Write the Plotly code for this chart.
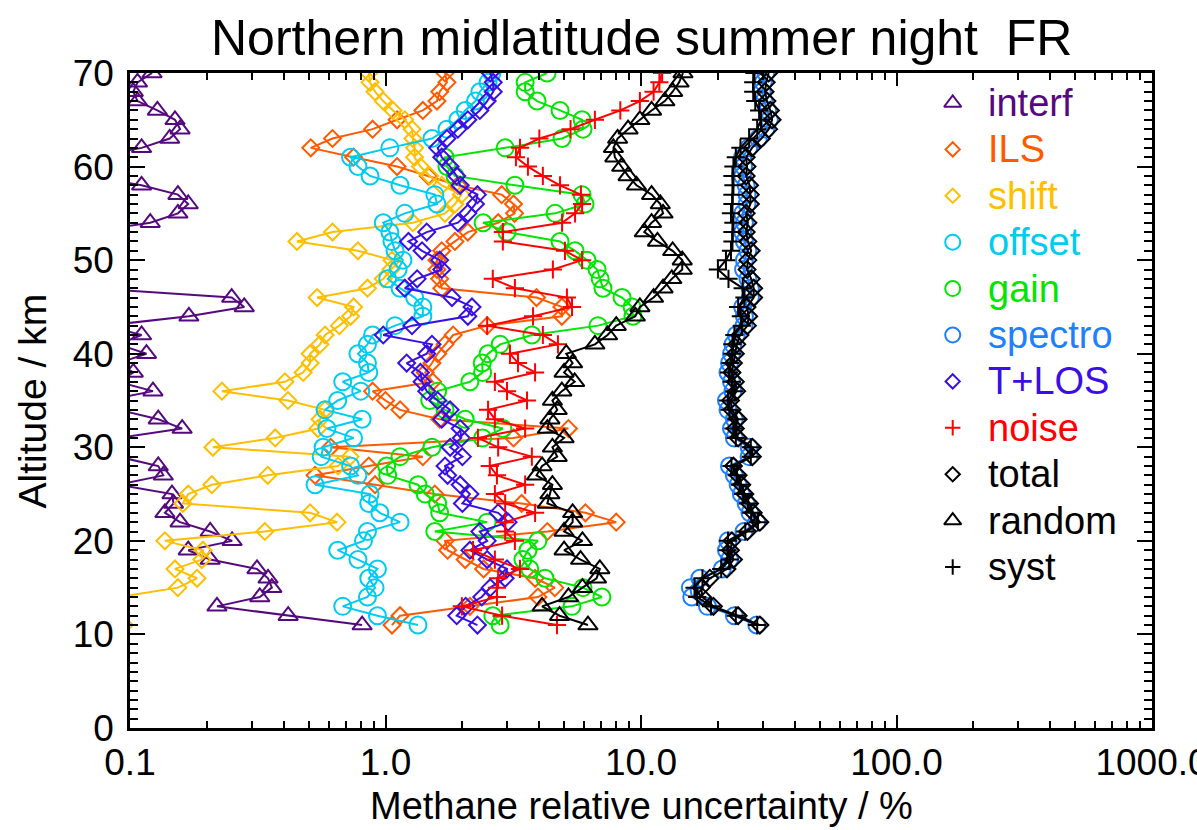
import plotly.graph_objects as go

# Altitude grid (km)
altitude = list(range(11, 71))

# Relative uncertainty contributions (%), listed from 11 km to 70 km
interf = [0.81, 0.416, 0.219, 0.322, 0.359, 0.347, 0.314, 0.206, 0.169, 0.251,
          0.206, 0.157, 0.137, 0.148, 0.146, 0.09, 0.135, 0.129, 0.09, 0.08,
          0.09, 0.160, 0.129, 0.09, 0.08, 0.123, 0.09, 0.103, 0.09, 0.116,
          0.09, 0.111, 0.08, 0.17, 0.28, 0.25, 0.07, 0.06, 0.05, 0.04,
          0.05, 0.04, 0.07, 0.120, 0.154, 0.169, 0.154, 0.111, 0.07, 0.05,
          0.07, 0.111, 0.143, 0.157, 0.150, 0.128, 0.107, 0.103, 0.107, 0.122]

ils = [1.06, 1.14, 2.14, 3.95, 4.6, 3.85, 2.42, 2.05, 1.75, 1.71,
       4.3, 8.0, 6.06, 3.41, 1.56, 0.91, 0.53, 0.86, 1.40, 0.61,
       3.17, 5.2, 1.63, 1.14, 1.0, 0.89, 1.53, 1.43, 1.52, 1.60,
       1.71, 1.84, 2.50, 4.9, 4.9, 3.9, 1.66, 1.63, 1.59, 1.59,
       1.66, 1.87, 2.10, 2.76, 3.2, 3.17, 2.85, 1.92, 1.47, 1.11,
       0.75, 0.51, 0.62, 0.89, 1.11, 1.40, 1.59, 1.63, 1.74, 1.71]

shift = [0.095, 0.05, 0.06, 0.09, 0.154, 0.183, 0.150, 0.191, 0.193, 0.137,
         0.337, 0.646, 0.507, 0.161, 0.169, 0.209, 0.346, 0.652, 0.727, 0.211,
         0.370, 0.544, 0.554, 0.580, 0.415, 0.229, 0.404, 0.476, 0.507, 0.507,
         0.554, 0.58, 0.66, 0.73, 0.75, 0.54, 0.85, 0.98, 1.05, 1.06,
         0.78, 0.45, 0.62, 1.28, 1.71, 1.87, 1.98, 1.66, 1.49, 1.37,
         1.30, 1.30, 1.28, 1.27, 1.19, 1.07, 0.98, 0.91, 0.87, 0.86]

offset = [1.34, 0.93, 0.68, 0.85, 0.91, 0.86, 0.93, 0.78, 0.65, 0.82,
          0.85, 1.14, 0.95, 0.86, 0.87, 0.53, 0.78, 0.73, 0.56, 0.57,
          0.75, 0.59, 0.81, 0.58, 0.65, 0.80, 0.68, 0.86, 0.85, 0.78,
          0.85, 0.89, 1.09, 1.40, 1.40, 1.30, 1.14, 1.02, 1.12, 1.17,
          1.09, 1.06, 1.04, 0.98, 1.19, 1.59, 1.56, 1.14, 0.87, 0.78,
          0.73, 1.04, 1.52, 1.74, 1.92, 2.05, 2.25, 2.34, 2.52, 2.61]

gain = [2.81, 2.63, 5.37, 7.03, 5.93, 4.21, 3.67, 3.45, 3.61, 3.95,
        1.56, 2.50, 1.63, 1.60, 1.43, 1.34, 1.02, 1.01, 1.14, 1.52,
        2.40, 2.88, 2.05, 1.71, 1.49, 1.60, 2.14, 2.40, 2.39, 2.52,
        2.81, 3.74, 6.79, 9.3, 9.23, 8.43, 7.10, 6.92, 6.73, 6.15,
        5.52, 4.82, 2.99, 2.41, 4.61, 6.04, 5.88, 3.21, 1.87, 1.74,
        1.71, 2.94, 4.91, 5.93, 5.88, 4.82, 3.92, 3.52, 3.52, 4.29]

spectro = [28.4, 23.2, 18.2, 15.8, 15.6, 17.0, 20.8, 22.2, 21.6, 21.9,
           25.3, 28.4, 26.7, 25.8, 24.7, 24.0, 23.2, 22.2, 26.5, 26.5,
           23.2, 22.6, 23.2, 21.9, 21.6, 22.9, 22.6, 21.9, 22.2, 22.6,
           22.9, 23.6, 25.3, 25.4, 25.0, 26.8, 26.8, 26.2, 25.2, 25.4,
           26.2, 25.4, 25.0, 25.4, 25.0, 26.0, 26.0, 25.8, 25.0, 25.2,
           25.0, 26.4, 28.8, 30.8, 31.8, 31.3, 30.3, 29.8, 30.1, 30.8]

t_los = [2.29, 1.90, 2.06, 2.38, 2.57, 2.94, 2.99, 2.50, 2.14, 2.50,
         2.34, 3.02, 2.76, 2.00, 2.14, 1.96, 1.75, 1.71, 2.00, 1.79,
         1.98, 1.96, 1.66, 1.79, 1.60, 1.45, 1.39, 1.37, 1.21, 1.45,
         1.52, 0.98, 1.27, 2.10, 2.18, 1.82, 1.19, 1.33, 1.66, 1.63,
         1.39, 1.23, 1.45, 1.92, 2.10, 2.25, 2.29, 1.96, 1.90, 1.79,
         1.66, 1.60, 1.74, 1.92, 2.10, 2.34, 2.50, 2.64, 2.64, 2.57]

noise = [4.69, 2.86, 1.99, 2.73, 2.73, 2.76, 3.36, 2.68, 2.20, 3.21,
         2.94, 2.94, 3.85, 2.94, 2.68, 3.52, 2.73, 2.56, 3.74, 2.76,
         2.30, 3.52, 2.68, 2.52, 3.58, 2.99, 2.68, 3.85, 3.30, 3.07,
         4.73, 4.13, 2.50, 3.78, 5.37, 5.13, 3.21, 2.63, 4.52, 5.88,
         5.04, 2.88, 2.88, 4.91, 5.52, 5.88, 5.82, 4.82, 4.13, 3.61,
         3.24, 3.36, 4.0, 5.3, 6.6, 8.3, 9.9, 11.2, 11.8, 12.1]

total = [29.2, 24.0, 19.2, 17.4, 17.2, 18.6, 21.7, 23.0, 22.4, 22.7,
         26.1, 29.2, 27.5, 26.6, 25.5, 24.8, 24.0, 23.0, 27.3, 27.3,
         24.0, 23.4, 24.0, 22.7, 22.4, 23.7, 23.4, 22.7, 23.0, 23.4,
         23.7, 24.4, 26.1, 26.4, 26.0, 27.6, 27.6, 27.0, 26.0, 26.2,
         27.0, 26.2, 25.8, 26.2, 25.8, 26.8, 26.8, 26.6, 25.8, 26.0,
         25.8, 27.2, 29.6, 31.6, 32.6, 32.1, 31.1, 30.6, 30.9, 31.6]

random_err = [6.2, 4.8, 4.1, 5.2, 5.9, 6.7, 6.9, 5.8, 5.0, 5.9,
              5.0, 5.4, 5.4, 4.3, 4.4, 4.5, 3.9, 4.1, 4.7, 4.5,
              5.0, 4.3, 4.4, 4.7, 4.5, 4.9, 5.5, 5.0, 5.4, 5.1,
              6.6, 7.4, 8.0, 9.5, 9.9, 11.2, 12.2, 13.2, 14.5, 14.5,
              13.3, 11.6, 10.3, 11.0, 12.2, 11.9, 11.0, 9.6, 8.9, 8.4,
              7.9, 7.8, 8.1, 8.9, 9.9, 11.0, 12.4, 13.3, 14.1, 14.6]

syst = [28.5, 23.5, 18.8, 16.6, 16.2, 17.4, 20.6, 22.3, 21.8, 21.9,
        25.6, 28.7, 27.0, 26.2, 25.1, 24.4, 23.7, 22.6, 26.9, 26.9,
        23.5, 23.0, 23.6, 22.2, 21.9, 23.2, 22.7, 22.1, 22.4, 22.8,
        22.8, 23.2, 24.8, 24.6, 24.0, 25.4, 25.0, 22.0, 20.0, 21.5,
        22.5, 22.8, 22.8, 23.0, 22.5, 22.8, 22.8, 23.0, 22.8, 23.0,
        23.5, 24.5, 26.5, 28.5, 29.5, 29.0, 28.0, 27.5, 27.5, 27.8]

x_tickvals = [0.1, 1, 10, 100, 1000]
x_ticktext = ["0.1", "1.0", "10.0", "100.0", "1000.0"]
y_tickvals = [0, 10, 20, 30, 40, 50, 60, 70]

# name, values, line colour, legend text colour, symbol, size
series = [
    ("interf", interf, "#55097f", "#55097f", "triangle-up-open", 17),
    ("ILS", ils, "#ff5a00", "#ff5a00", "diamond-open", 13),
    ("shift", shift, "#ffbf00", "#ffbf00", "diamond-open", 13),
    ("offset", offset, "#00ccf2", "#00ccf2", "circle-open", 17),
    ("gain", gain, "#00e600", "#00e600", "circle-open", 17),
    ("spectro", spectro, "#1f7fff", "#1f7fff", "circle-open", 17),
    ("T+LOS", t_los, "#3a0ee6", "#3a0ee6", "diamond-open", 13),
    ("noise", noise, "#ff0000", "#ff0000", "cross-thin", 13),
    ("total", total, "#000000", "#000000", "diamond-open", 13),
    ("random", random_err, "#000000", "#000000", "triangle-up-open", 17),
    ("syst", syst, "#000000", "#000000", "cross-thin", 13),
]

FONT = "Liberation Sans, Helvetica, Arial, sans-serif"

fig = go.Figure()

for name, vals, col, _, sym, size in series:
    fig.add_trace(go.Scatter(
        x=vals, y=altitude, mode="lines+markers", name=name,
        line=dict(color=col, width=2),
        marker=dict(symbol=sym, size=size, color=col,
                    line=dict(color=col, width=2)),
        showlegend=False, cliponaxis=True,
    ))

# Legend key: symbols on an overlay axis in plot-fraction units, labels as annotations
key_x = 0.805
text_x = 0.838
row0_px, row_step_px, plot_h = 103.0, 46.4, 655.0
annotations = []
for i, (name, _, col, tcol, sym, size) in enumerate(series):
    yy = (728.0 - (row0_px + i * row_step_px)) / plot_h
    fig.add_trace(go.Scatter(
        x=[key_x], y=[yy], mode="markers", xaxis="x2", yaxis="y2",
        marker=dict(symbol=sym, size=size - 2, color=col,
                    line=dict(color=col, width=2)),
        showlegend=False, cliponaxis=False, hoverinfo="skip",
    ))
    annotations.append(dict(
        x=text_x, y=yy, xref="paper", yref="paper", text=name,
        showarrow=False, xanchor="left", yanchor="middle",
        font=dict(family=FONT, size=38, color=tcol),
    ))

annotations += [
    dict(text="Northern midlatitude summer night  FR", x=0.5, y=1.053,
         xref="paper", yref="paper", showarrow=False,
         xanchor="center", yanchor="middle",
         font=dict(family=FONT, size=50, color="black")),
    dict(text="Methane relative uncertainty / %", x=0.5, y=-0.119,
         xref="paper", yref="paper", showarrow=False,
         xanchor="center", yanchor="middle",
         font=dict(family=FONT, size=38, color="black")),
    dict(text="Altitude / km", x=-0.095, y=0.5, textangle=-90,
         xref="paper", yref="paper", showarrow=False,
         xanchor="center", yanchor="middle",
         font=dict(family=FONT, size=39, color="black")),
]

minor_x = [k * 10.0 ** n for n in range(-1, 3) for k in range(2, 10)]

axis_common = dict(
    showline=True, linecolor="black", linewidth=2.5, mirror="allticks",
    ticks="inside", tickcolor="black", tickwidth=2,
    showgrid=False, zeroline=False,
    tickfont=dict(family=FONT, size=37, color="black"),
    automargin=False, ticklabeloverflow="allow",
)

fig.update_layout(
    width=1197, height=830,
    margin=dict(l=130, r=45, t=73, b=102),
    paper_bgcolor="white", plot_bgcolor="white",
    template="none",
    showlegend=False,
    xaxis=dict(type="log", range=[-1, 3], tickmode="array",
               tickvals=x_tickvals, ticktext=x_ticktext, ticklen=13,
               ticklabelstandoff=0,
               minor=dict(tickmode="array", tickvals=minor_x, ticks="inside",
                          ticklen=7, tickwidth=2, tickcolor="black"),
               **axis_common),
    yaxis=dict(range=[0, 70], tickmode="array", tickvals=y_tickvals,
               ticklen=15, ticklabelstandoff=6,
               minor=dict(dtick=1, ticks="inside", ticklen=8,
                          tickwidth=2, tickcolor="black"),
               **axis_common),
    xaxis2=dict(overlaying="x", anchor="y2", range=[0, 1], visible=False,
                fixedrange=True),
    yaxis2=dict(overlaying="y", anchor="x2", range=[0, 1], visible=False,
                fixedrange=True),
    annotations=annotations,
)

fig.write_html("out.html")
